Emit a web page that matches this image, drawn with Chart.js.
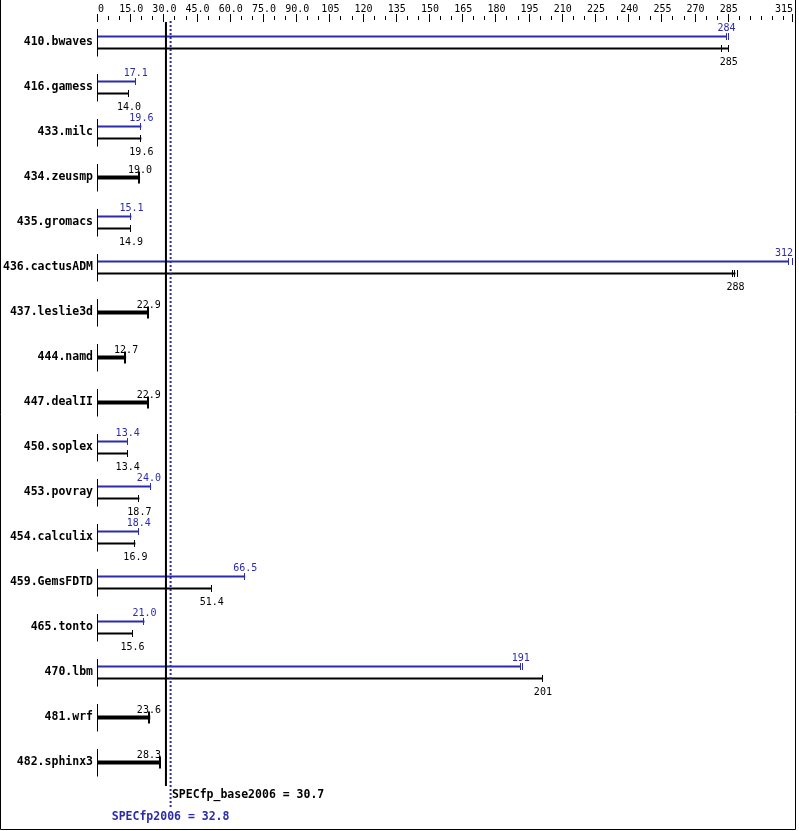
<!DOCTYPE html>
<html>
<head>
<meta charset="utf-8">
<script src="https://cdn.jsdelivr.net/npm/chart.js@4.4.1/dist/chart.umd.min.js"></script>
<style>
  body { margin: 0; background: #fff; }
  canvas { display: block; }
</style>
</head>
<body>
<canvas id="spec" width="799" height="831"></canvas>
<script>
// benchmarks, top to bottom
var names = ['410.bwaves', '416.gamess', '433.milc', '434.zeusmp', '435.gromacs', '436.cactusADM',
  '437.leslie3d', '444.namd', '447.dealII', '450.soplex', '453.povray', '454.calculix',
  '459.GemsFDTD', '465.tonto', '470.lbm', '481.wrf', '482.sphinx3'];
// peak ratios (null = same as base, drawn as one thick bar)
var peak = [284, 17.1, 19.6, null, 15.1, 312, null, null, null, 13.4, 24.0, 18.4, 66.5, 21.0, 191, null, null];
// base ratios
var base = [285, 14.0, 19.6, 19.0, 14.9, 288, 22.9, 12.7, 22.9, 13.4, 18.7, 16.9, 51.4, 15.6, 201, 23.6, 28.3];
// other run results marked on the bars
var peakRuns = [[285.2], [], [], [], [], [313.8], [], [], [], [], [], [], [], [], [191.8], [], []];
var baseRuns = [[282], [], [], [], [], [286.7, 289], [], [], [], [], [], [], [], [], [], [], []];
// overall scores
var baseScore = 30.7;
var peakScore = 32.8;
var axisMax = 314;

var blue = '#2b2bab';
var mono = '"DejaVu Sans Mono", "Liberation Mono", monospace';
var off = 6 / 45;

function fmt(v) {
  return v >= 100 ? String(Math.round(v)) : v.toFixed(1);
}

var peakData = [], baseData = [], singleData = [];
for (var i = 0; i < names.length; i++) {
  if (peak[i] === null) {
    singleData.push({x: base[i], y: i, row: i});
  } else {
    peakData.push({x: peak[i], y: i - off, row: i});
    baseData.push({x: base[i], y: i + off, row: i});
  }
}

var decor = {
  id: 'decor',
  beforeDraw: function (chart) {
    var c = chart.ctx;
    c.save();
    c.fillStyle = '#fff';
    c.fillRect(0, 0, chart.width, chart.height);
    c.restore();
  },
  afterDatasetsDraw: function (chart) {
    var c = chart.ctx;
    var xs = chart.scales.x, ys = chart.scales.y;
    var area = chart.chartArea;
    var bx = xs.getPixelForValue(baseScore);
    c.save();

    // axis tick marks
    c.strokeStyle = '#000';
    c.lineWidth = 1;
    xs.ticks.forEach(function (t) {
      var px = Math.round(xs.getPixelForValue(t.value)) - 0.5;
      var major = (t.value % 15 === 0 && t.value !== 300) || t.value === axisMax;
      c.beginPath();
      c.moveTo(px, major ? 14 : 16);
      c.lineTo(px, major ? 22 : 20);
      c.stroke();
    });

    // left stub line for each row
    var x0 = Math.round(xs.getPixelForValue(0)) - 0.5;
    names.forEach(function (n, i) {
      var py = ys.getPixelForValue(i);
      c.beginPath();
      c.moveTo(x0, py - 13.5);
      c.lineTo(x0, py + 14);
      c.stroke();
    });

    // whiskers and value labels
    c.font = '10px ' + mono;
    c.textAlign = 'center';
    c.textBaseline = 'middle';
    var sets = [
      {data: peakData, runs: peakRuns, color: blue, half: 3.5, w: 1, dy: -8.5},
      {data: baseData, runs: baseRuns, color: '#000', half: 3.5, w: 1, dy: 13.5},
      {data: singleData, runs: baseRuns, color: '#000', half: 6, w: 2, dy: -7.5}
    ];
    sets.forEach(function (s) {
      c.strokeStyle = s.color;
      c.fillStyle = s.color;
      c.lineWidth = s.w;
      s.data.forEach(function (d) {
        var py = ys.getPixelForValue(d.y);
        var marks = [d.x].concat(s.runs[d.row]);
        marks.forEach(function (v) {
          var px = Math.round(xs.getPixelForValue(v)) - s.w / 2;
          c.beginPath();
          c.moveTo(px, py - s.half);
          c.lineTo(px, py + s.half);
          c.stroke();
        });
        var txt = fmt(d.x);
        var tw = c.measureText(txt).width;
        var end = xs.getPixelForValue(d.x);
        var tx = Math.min(end, 793 - tw / 2);
        if (end < bx) tx = Math.min(tx, bx - 5 - tw / 2);
        c.fillText(txt, tx, py + s.dy);
      });
    });

    // score lines
    c.strokeStyle = '#000';
    c.lineWidth = 2;
    c.beginPath();
    c.moveTo(bx, area.top + 2);
    c.lineTo(bx, 786);
    c.stroke();

    var px2 = xs.getPixelForValue(peakScore);
    c.strokeStyle = blue;
    c.setLineDash([2, 2]);
    c.beginPath();
    c.moveTo(px2, area.top + 1);
    c.lineTo(px2, 807);
    c.stroke();
    c.setLineDash([]);

    c.font = 'bold 11.5px ' + mono;
    c.fillStyle = '#000';
    c.textAlign = 'left';
    c.fillText('SPECfp_base2006 = ' + fmt(baseScore), bx + 6, 795);
    c.fillStyle = blue;
    c.textAlign = 'center';
    c.fillText('SPECfp2006 = ' + fmt(peakScore), px2, 817);

    // frame
    c.strokeStyle = '#000';
    c.lineWidth = 1;
    c.beginPath();
    c.moveTo(0.5, 0);
    c.lineTo(0.5, 829.5);
    c.lineTo(795.5, 829.5);
    c.lineTo(795.5, 0);
    c.stroke();
    c.restore();
  }
};

var ctx = document.getElementById('spec');
var chart = new Chart(ctx, {
  type: 'bar',
  data: {
    datasets: [
      {label: 'peak', data: peakData, backgroundColor: blue, maxBarThickness: 2},
      {label: 'base', data: baseData, backgroundColor: '#000', maxBarThickness: 2},
      {label: 'base=peak', data: singleData, backgroundColor: '#000', maxBarThickness: 4}
    ]
  },
  options: {
    indexAxis: 'y',
    responsive: false,
    animation: false,
    grouped: false,
    layout: {padding: {top: 0, right: 6, bottom: 46, left: 0}},
    plugins: {legend: {display: false}, tooltip: {enabled: false}},
    scales: {
      x: {
        type: 'linear',
        position: 'top',
        min: 0,
        max: axisMax,
        offset: false,
        grid: {display: false, drawTicks: false},
        border: {display: false},
        afterBuildTicks: function (scale) {
          var t = [];
          for (var v = 0; v < axisMax; v += 5) t.push({value: v});
          t.push({value: axisMax});
          scale.ticks = t;
        },
        afterFit: function (scale) {
          scale.height = 20;
          scale.paddingLeft = 0;
          scale.paddingRight = 0;
        },
        ticks: {
          autoSkip: false,
          maxRotation: 0,
          minRotation: 0,
          padding: 5,
          color: '#000',
          font: {family: mono, size: 10},
          callback: function (v) {
            if (v === axisMax) return '315   ';
            if (v % 15 !== 0 || v === 300) return '';
            if (v === 0) return ' 0';
            return v < 100 ? v.toFixed(1) : String(v);
          }
        }
      },
      y: {
        type: 'linear',
        reverse: true,
        offset: false,
        min: -0.5,
        max: names.length - 0.5,
        grid: {display: false, drawTicks: false},
        border: {display: false},
        afterBuildTicks: function (scale) {
          scale.ticks = names.map(function (n, i) { return {value: i}; });
        },
        afterFit: function (scale) {
          scale.width = 98;
          scale.paddingTop = 0;
          scale.paddingBottom = 0;
        },
        ticks: {
          padding: 5,
          color: '#000',
          font: {family: mono, size: 11.5, weight: 'bold'},
          callback: function (v) { return names[v]; }
        }
      }
    }
  },
  plugins: [decor]
});
</script>
</body>
</html>
